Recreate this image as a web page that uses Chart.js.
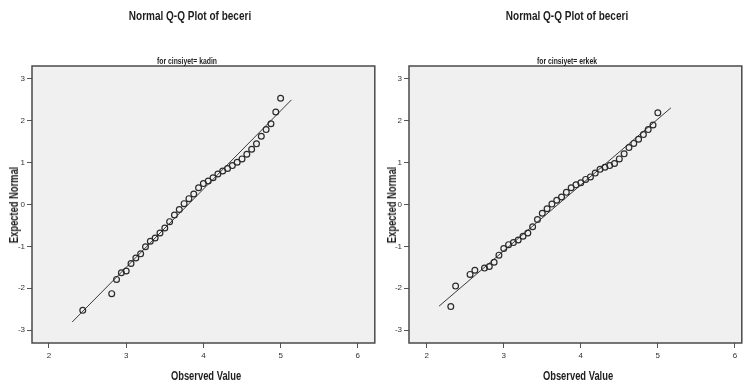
<!DOCTYPE html>
<html>
<head>
<meta charset="utf-8">
<script src="https://cdn.jsdelivr.net/npm/chart.js@4.4.1/dist/chart.umd.min.js"></script>
<style>
  body { margin: 0; background: #fff; width: 747px; height: 385px; overflow: hidden; position: relative;
         font-family: "Liberation Sans Narrow", "Liberation Sans", Arial, sans-serif; }
  canvas { position: absolute; top: 0; }
  .lbl { position: absolute; font-weight: bold; color: #1e1e1e; white-space: nowrap; line-height: 1; }
  .title { top: 15px; font-size: 13px; transform: translate(-50%, -50%) scaleX(0.77); }
  .sub { top: 61px; font-size: 8.5px; transform: translate(-50%, -50%) scaleX(0.8); }
  .xt { top: 376px; font-size: 12px; transform: translate(-50%, -50%) scaleX(0.78); }
  .yt { top: 205px; font-size: 12px; transform: translate(-50%, -50%) rotate(-90deg) scaleX(0.78); }
</style>
</head>
<body>
<canvas id="kadinChart" width="380" height="385" style="left:0"></canvas>
<canvas id="erkekChart" width="367" height="385" style="left:380px"></canvas>
<div class="lbl title" style="left:190px">Normal Q-Q Plot of beceri</div>
<div class="lbl title" style="left:567px">Normal Q-Q Plot of beceri</div>
<div class="lbl sub" style="left:187px">for cinsiyet= kadin</div>
<div class="lbl sub" style="left:567px">for cinsiyet= erkek</div>
<div class="lbl xt" style="left:206px">Observed Value</div>
<div class="lbl xt" style="left:578px">Observed Value</div>
<div class="lbl yt" style="left:14px">Expected Normal</div>
<div class="lbl yt" style="left:392px">Expected Normal</div>
<script>
const kadinObserved = [2.4375, 2.8125, 2.875, 2.9375, 3.0, 3.0625, 3.125, 3.1875, 3.25, 3.3125,
  3.375, 3.4375, 3.5, 3.5625, 3.625, 3.6875, 3.75, 3.8125, 3.875, 3.9375, 4.0, 4.0625, 4.125,
  4.1875, 4.25, 4.3125, 4.375, 4.4375, 4.5, 4.5625, 4.625, 4.6875, 4.75, 4.8125, 4.875, 4.9375, 5.0];
const kadinExpected = [-2.53, -2.13, -1.79, -1.63, -1.59, -1.41, -1.28, -1.18, -1.01, -0.88,
  -0.80, -0.68, -0.56, -0.41, -0.25, -0.12, 0.02, 0.14, 0.25, 0.40, 0.50, 0.56, 0.64,
  0.73, 0.80, 0.86, 0.93, 1.01, 1.09, 1.20, 1.32, 1.45, 1.63, 1.79, 1.93, 2.21, 2.54];
const kadinLineX = [2.30, 5.14];
const kadinLineY = [-2.81, 2.50];

const erkekObserved = [2.3125, 2.375, 2.5625, 2.625, 2.75, 2.8125, 2.875, 2.9375, 3.0, 3.0625,
  3.125, 3.1875, 3.25, 3.3125, 3.375, 3.4375, 3.5, 3.5625, 3.625, 3.6875, 3.75, 3.8125, 3.875,
  3.9375, 4.0, 4.0625, 4.125, 4.1875, 4.25, 4.3125, 4.375, 4.4375, 4.5, 4.5625, 4.625, 4.6875,
  4.75, 4.8125, 4.875, 4.9375, 5.0];
const erkekExpected = [-2.44, -1.95, -1.67, -1.57, -1.52, -1.48, -1.38, -1.21, -1.05, -0.96,
  -0.91, -0.85, -0.76, -0.68, -0.53, -0.36, -0.21, -0.10, 0.01, 0.10, 0.18, 0.29, 0.40,
  0.47, 0.52, 0.60, 0.66, 0.75, 0.84, 0.89, 0.93, 0.98, 1.09, 1.21, 1.36, 1.46,
  1.56, 1.67, 1.79, 1.90, 2.19];
const erkekLineX = [2.16, 5.17];
const erkekLineY = [-2.43, 2.31];

const xTicks = [2, 3, 4, 5, 6];
const yTicks = [-3, -2, -1, 0, 1, 2, 3];

const fontFamily = '"Liberation Sans Narrow", "Liberation Sans", Arial, sans-serif';

// grey plot background + dark frame
const plotBox = {
  id: 'plotBox',
  beforeDraw(chart) {
    const a = chart.chartArea, c = chart.ctx;
    c.save();
    c.fillStyle = '#f0f0f0';
    c.fillRect(a.left, a.top, a.right - a.left, a.bottom - a.top);
    c.restore();
  },
  afterDraw(chart) {
    const a = chart.chartArea, c = chart.ctx;
    c.save();
    c.strokeStyle = '#4a4a4a';
    c.lineWidth = 1.5;
    c.strokeRect(a.left, a.top, a.right - a.left, a.bottom - a.top);
    c.restore();
  }
};

function toPoints(xs, ys) {
  return xs.map((x, i) => ({ x: x, y: ys[i] }));
}

function makeChart(id, observed, expected, lineX, lineY, xMin, xMax, yAxisWidth) {
  const ctx = document.getElementById(id).getContext('2d');
  return new Chart(ctx, {
    type: 'scatter',
    data: {
      datasets: [{
        data: toPoints(observed, expected),
        showLine: false,
        pointStyle: 'circle',
        pointRadius: 2.9,
        pointBorderWidth: 1.2,
        borderColor: '#2a2a2a',
        backgroundColor: 'rgba(0,0,0,0)'
      }, {
        data: toPoints(lineX, lineY),
        showLine: true,
        pointRadius: 0,
        borderColor: '#3a3a3a',
        borderWidth: 1
      }]
    },
    options: {
      responsive: false,
      animation: false,
      layout: { padding: { top: 66, right: 1, left: 0, bottom: 0 } },
      plugins: { legend: { display: false }, tooltip: { enabled: false } },
      scales: {
        x: {
          type: 'linear',
          min: xMin, max: xMax,
          afterBuildTicks: s => { s.ticks = xTicks.map(v => ({ value: v })); },
          afterFit: s => { s.height = 42; },
          border: { display: false },
          grid: { drawOnChartArea: false, drawTicks: true, tickLength: 5, tickColor: '#555' },
          ticks: { color: '#333', padding: 3, font: { family: fontFamily, size: 8 } }
        },
        y: {
          type: 'linear',
          min: -3.31, max: 3.31,
          afterBuildTicks: s => { s.ticks = yTicks.map(v => ({ value: v })); },
          afterFit: s => { s.width = yAxisWidth; },
          border: { display: false },
          grid: { drawOnChartArea: false, drawTicks: true, tickLength: 5, tickColor: '#555' },
          ticks: { color: '#333', padding: 2, font: { family: fontFamily, size: 8 } }
        }
      }
    },
    plugins: [plotBox]
  });
}

makeChart('kadinChart', kadinObserved, kadinExpected, kadinLineX, kadinLineY, 1.78, 6.22, 32);
makeChart('erkekChart', erkekObserved, erkekExpected, erkekLineX, erkekLineY, 1.77, 6.09, 29);
</script>
</body>
</html>
